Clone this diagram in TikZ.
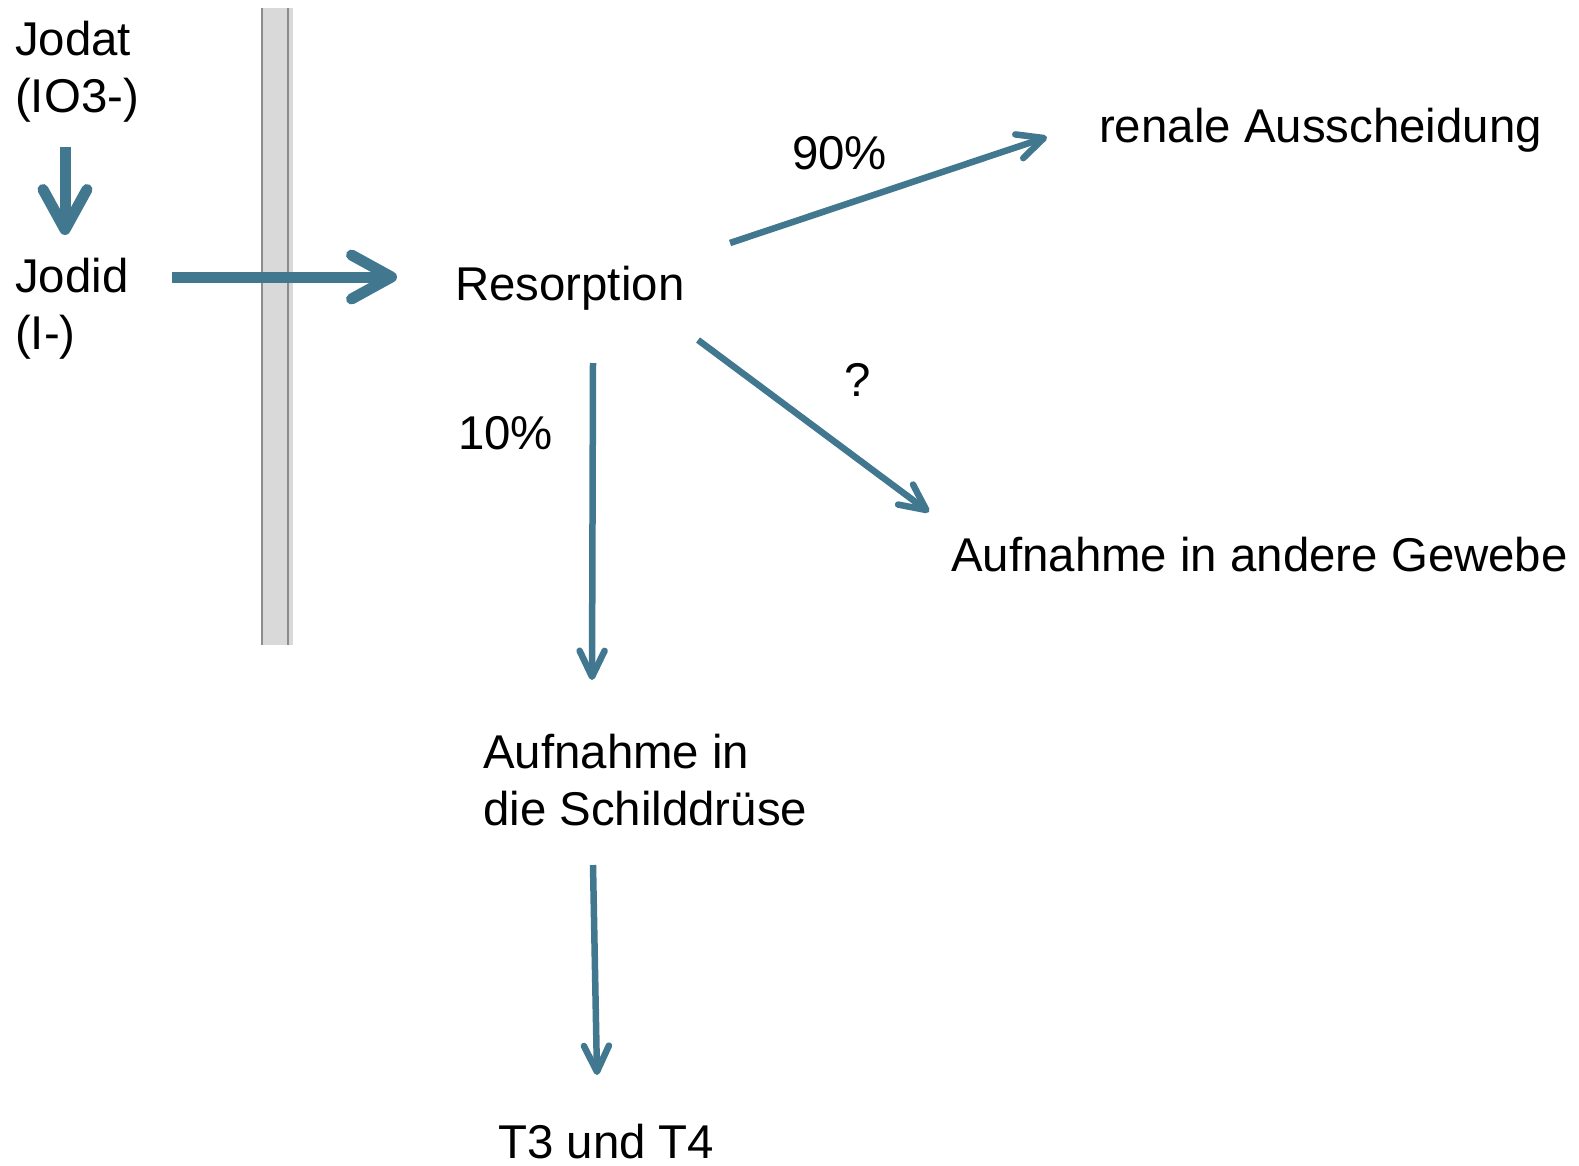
\documentclass[tikz,border=0pt]{standalone}
\usepackage{fontspec}
\setmainfont{Liberation Sans}
\usetikzlibrary{arrows.meta}
\definecolor{flowteal}{RGB}{65,120,143}
\definecolor{barfill}{RGB}{217,217,217}
\definecolor{barline}{RGB}{140,140,140}
\begin{document}
\begin{tikzpicture}[x=1pt,y=-1pt,
  lbl/.style={anchor=base west, inner sep=0pt, font=\fontsize{47.4}{57}\selectfont},
  bigarrow/.style={draw=flowteal, line width=11pt, -{Straight Barb[round, length=40pt, width=44pt]}},
  flowarrow/.style={draw=flowteal, line width=6.5pt, -{Straight Barb[round, length=26pt, width=25pt]}}]
\useasboundingbox (0,0) rectangle (1579,1165);
% membrane bar
\fill[barfill] (261,8) rectangle (293,645);
\draw[barline, line width=2pt] (262,8) -- (262,645);
\draw[barline, line width=2pt] (288,8) -- (288,645);
% labels
\node[lbl] (jodat) at (15,55) {\begin{tabular}[t]{@{}l@{}}Jodat\\(IO3-)\end{tabular}};
\node[lbl] (jodid) at (15,292) {\begin{tabular}[t]{@{}l@{}}Jodid\\(I-)\end{tabular}};
\node[lbl] (resorption) at (455,300) {Resorption};
\node[lbl] (p90) at (792,169) {90\%};
\node[lbl] (renal) at (1099,142) {renale Ausscheidung};
\node[lbl] (q) at (844,396) {?};
\node[lbl] (p10) at (458,449) {10\%};
\node[lbl] (gewebe) at (951,571) {Aufnahme in andere Gewebe};
\node[lbl] (schild) at (483,768) {\begin{tabular}[t]{@{}l@{}}Aufnahme in\\die Schilddrüse\end{tabular}};
\node[lbl] (t3t4) at (498,1158) {T3 und T4};
% connector end points
\coordinate (a1s) at (65,147);  \coordinate (a1e) at (65,235);
\coordinate (a2s) at (172,277); \coordinate (a2e) at (397,277);
\coordinate (a3s) at (730,243); \coordinate (a3e) at (1047,137);
\coordinate (a4s) at (698,340); \coordinate (a4e) at (929,512);
\coordinate (a5s) at (593,363); \coordinate (a5e) at (592,680);
\coordinate (a6s) at (593,865); \coordinate (a6e) at (597,1075);
% arrows
\draw[bigarrow] (a1s) -- (a1e);
\draw[bigarrow] (a2s) -- (a2e);
\draw[flowarrow] (a3s) -- (a3e);
\draw[flowarrow] (a4s) -- (a4e);
\draw[flowarrow] (a5s) -- (a5e);
\draw[flowarrow] (a6s) -- (a6e);
\end{tikzpicture}
\end{document}
